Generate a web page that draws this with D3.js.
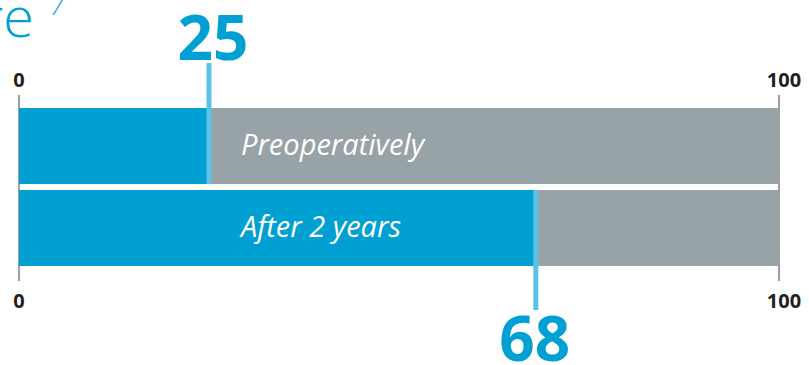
<!DOCTYPE html>
<html>
<head>
<meta charset="utf-8">
<script src="https://cdn.jsdelivr.net/npm/d3@7/dist/d3.min.js"></script>
<style>
  html, body { margin: 0; padding: 0; background: #fff; overflow: hidden; }
  svg { display: block; font-family: "Open Sans", "Noto Sans", sans-serif; }
</style>
</head>
<body>
<svg id="chart" width="809" height="365"></svg>
<script>
// Score at each time point (0–100 scale)
const categories = ["Preoperatively", "After 2 years"];
const scores = [25, 68];
const scaleMin = 0;
const scaleMax = 100;
const tickLabels = ["0", "100"];

const blue = "#00a0d3";
const grey = "#97a3a7";
const markerBlue = "#5cc3e8";
const inkDark = "#231f20";

const svg = d3.select("#chart");

const x = d3.scaleLinear().domain([scaleMin, scaleMax]).range([19, 779]);
const y = d3.scaleBand().domain(categories).range([108, 266])
  .paddingInner(6 / 82).paddingOuter(0);

// Heading fragment (runs off the page edge)
svg.append("text")
  .attr("x", 34).attr("y", 37)
  .attr("text-anchor", "end")
  .attr("fill", blue)
  .attr("font-size", 56)
  .attr("font-weight", 300)
  .text("re");
svg.append("text")
  .attr("x", 50).attr("y", 15)
  .attr("fill", blue)
  .attr("font-size", 24)
  .attr("font-weight", 300)
  .attr("font-style", "italic")
  .text("7");

// Scale end lines
svg.append("g").selectAll("line")
  .data([scaleMin, scaleMax])
  .join("line")
  .attr("x1", d => x(d)).attr("x2", d => x(d))
  .attr("y1", 95).attr("y2", 281)
  .attr("stroke", "#7d7d7d")
  .attr("stroke-width", 1.5);

// Tick labels above and below
const tickVals = [scaleMin, scaleMax];
const tickX = (d, i) => x(d) + (i === tickVals.length - 1 ? 5 : 0);
[87, 308].forEach(base => {
  svg.append("g").selectAll("text")
    .data(tickVals)
    .join("text")
    .attr("x", tickX)
    .attr("y", base)
    .attr("text-anchor", "middle")
    .attr("font-size", 20)
    .attr("font-weight", 700)
    .attr("fill", inkDark)
    .text((d, i) => tickLabels[i]);
});

// Full-scale background bars
svg.append("g").selectAll("rect")
  .data(categories)
  .join("rect")
  .attr("x", x(scaleMin))
  .attr("y", d => y(d))
  .attr("width", x(scaleMax) - x(scaleMin))
  .attr("height", y.bandwidth())
  .attr("fill", grey);

// Score bars
svg.append("g").selectAll("rect")
  .data(categories)
  .join("rect")
  .attr("x", x(scaleMin))
  .attr("y", d => y(d))
  .attr("width", (d, i) => x(scores[i]) - x(scaleMin))
  .attr("height", y.bandwidth())
  .attr("fill", blue);

// Category labels inside bars
svg.append("g").selectAll("text")
  .data(categories)
  .join("text")
  .attr("x", 241)
  .attr("y", d => y(d) + 47)
  .attr("fill", "#fff")
  .attr("font-size", 29)
  .attr("font-style", "italic")
  .text(d => d);

// Score markers: first points up, second points down
const markers = scores.map((v, i) => {
  const top = y(categories[i]);
  const bottom = top + y.bandwidth();
  return i === 0
    ? { v, y1: 63, y2: bottom, labelY: 60, dx: 4 }
    : { v, y1: top, y2: 310, labelY: 361, dx: -1 };
});

svg.append("g").selectAll("line")
  .data(markers)
  .join("line")
  .attr("x1", d => x(d.v)).attr("x2", d => x(d.v))
  .attr("y1", d => d.y1).attr("y2", d => d.y2)
  .attr("stroke", markerBlue)
  .attr("stroke-width", 5);

svg.append("g").selectAll("text")
  .data(markers)
  .join("text")
  .attr("x", d => x(d.v) + d.dx)
  .attr("y", d => d.labelY)
  .attr("text-anchor", "middle")
  .attr("font-size", 62)
  .attr("font-weight", 700)
  .attr("fill", blue)
  .text(d => d.v);
</script>
</body>
</html>
